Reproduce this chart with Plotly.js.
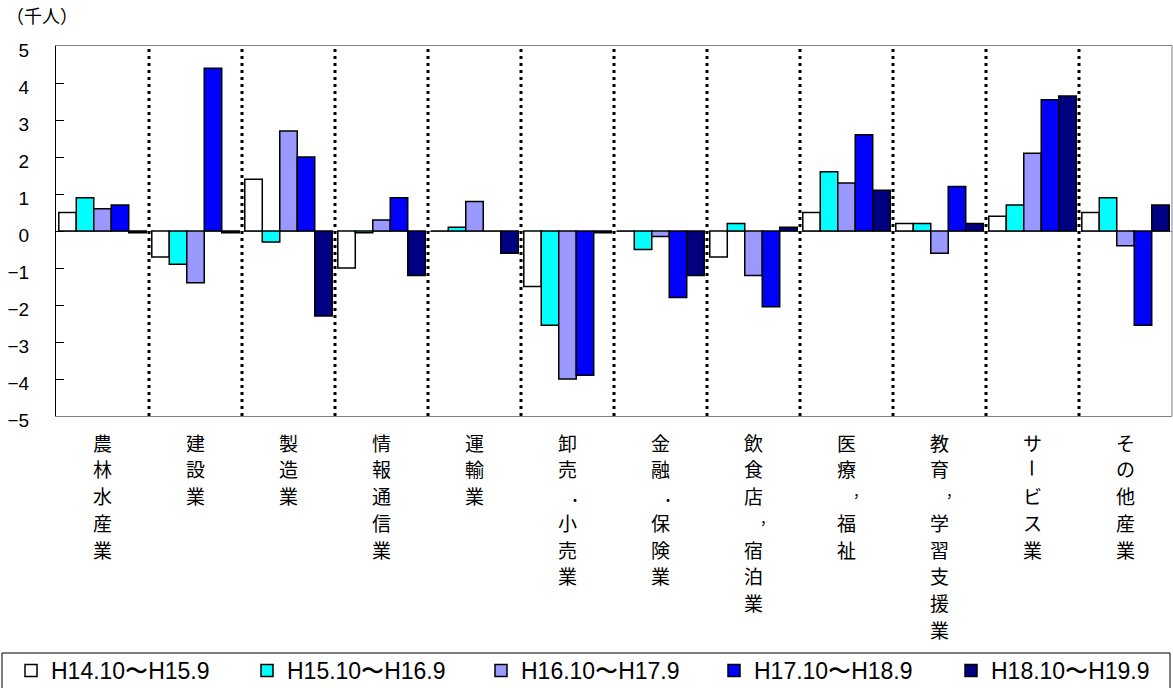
<!DOCTYPE html>
<html><head><meta charset="utf-8">
<script src="https://cdn.plot.ly/plotly-3.0.1.min.js"></script>
<style>html,body{margin:0;padding:0;background:#fff}</style>
</head><body><div id="chart" style="width:1173px;height:688px"></div>
<script>
const categories = ['農林水産業','建設業','製造業','情報通信業','運輸業','卸売・小売業','金融・保険業','飲食店，宿泊業','医療，福祉','教育，学習支援業','サービス業','その他産業'];
const seriesNames = ['H14.10〜H15.9','H15.10〜H16.9','H16.10〜H17.9','H17.10〜H18.9','H18.10〜H19.9'];
const h14 = [0.5, -0.7, 1.4, -1.0, 0, -1.5, 0, -0.7, 0.5, 0.2, 0.4, 0.5];
const h15 = [0.9, -0.9, -0.3, -0.05, 0.1, -2.55, -0.5, 0.2, 1.6, 0.2, 0.7, 0.9];
const h16 = [0.6, -1.4, 2.7, 0.3, 0.8, -4.0, -0.15, -1.2, 1.3, -0.6, 2.1, -0.4];
const h17 = [0.7, 4.4, 2.0, 0.9, 0, -3.9, -1.8, -2.05, 2.6, 1.2, 3.55, -2.55];
const h18 = [-0.05, -0.05, -2.3, -1.2, -0.6, -0.05, -1.2, 0.1, 1.1, 0.2, 3.65, 0.7];
const colors = ['#FFFFFF','#00FFFF','#9999FF','#0000FF','#000080'];
const yTicks = [-5,-4,-3,-2,-1,0,1,2,3,4,5];
const unitLabel = '（千人）';

const W = 1173, H = 688;
const series = [h14,h15,h16,h17,h18];
const legendIds = series.map((v,i)=> i===0 ? 'legend' : 'legend'+(i+1));
const traces = series.map((v,i)=>({
  type:'bar', x:categories, y:v, name:seriesNames[i], legend:legendIds[i],
  marker:{color:colors[i], line:{color:'#000', width:1.5}},
  hoverinfo:'skip'
}));

// plot area geometry (pixels)
const PL = 56, PR = 1172, PT = 46, PB = 416;
const pw = PR-PL, ph = PB-PT;

const shapes = [];
for (let j=0;j<categories.length-1;j++){
  shapes.push({type:'line', xref:'x', yref:'paper', x0:j+0.5, x1:j+0.5, y0:0, y1:1,
    line:{color:'#000', width:3, dash:'3px,4px'}});
}
shapes.push({type:'line', xref:'paper', yref:'paper', x0:1, x1:1, y0:0, y1:1, line:{color:'#808080', width:1}});
// legend frame
shapes.push({type:'rect', xref:'paper', yref:'paper',
  x0:(2-PL)/pw, x1:(1170-PL)/pw, y0:(PB-653)/ph, y1:(PB-700)/ph,
  line:{color:'#000', width:1}, fillcolor:'rgba(0,0,0,0)'});

// vertical category labels, one character per line
const annotations = [];
const FS = 19, LINE = 26.7, FIRST = 25.7;
categories.forEach((c,j)=>{
  [...c].forEach((ch,k)=>{
    const a = {xref:'x', yref:'paper', x:j, y:0, xanchor:'center', yanchor:'middle',
      text:ch, showarrow:false, borderpad:0,
      font:{family:'Noto Sans CJK JP', size:FS, color:'#000'},
      yshift:-Math.round(FIRST + k*LINE)};
    if (ch==='ー') { a.textangle = 90; }
    if (ch==='，') { a.font.size = 14; a.xshift = 13; a.yshift += 4; }
    if (ch==='・') { a.font.size = 14; a.xshift = 7; a.yshift -= 4; }
    annotations.push(a);
  });
});

const layout = {
  width:W, height:H,
  margin:{l:PL, r:W-PR, t:PT, b:H-PB},
  paper_bgcolor:'#fff', plot_bgcolor:'#fff',
  bargap:0.06, bargroupgap:0, barmode:'group',
  showlegend:true,
  title:{text:unitLabel, xref:'container', yref:'container', x:6/W, xanchor:'left', y:1-17/H, yanchor:'middle',
    font:{family:'Noto Sans CJK JP', size:18, color:'#000'}},
  xaxis:{type:'category', range:[-0.5,11.5], showticklabels:false, ticks:'', showgrid:false, zeroline:false,
    showline:true, linecolor:'#808080', linewidth:1, mirror:true, fixedrange:true},
  yaxis:{range:[-5,5], tickvals:yTicks, ticks:'inside', ticklen:8, tickcolor:'#000', tickwidth:1,
    showline:true, linecolor:'#000', linewidth:1, showgrid:false,
    zeroline:true, zerolinecolor:'#808080', zerolinewidth:1,
    tickfont:{family:'Liberation Sans', size:19, color:'#000'}, ticklabelstandoff:22, ticklabelshift:4, fixedrange:true},
  shapes:shapes,
  annotations:annotations
};
const legendX = [11, 247, 481, 714, 951];
legendIds.forEach((id,i)=>{
  layout[id] = {orientation:'h', xref:'container', yref:'container', x:legendX[i]/W, y:1-649/H,
    xanchor:'left', yanchor:'top', borderwidth:0, bgcolor:'rgba(0,0,0,0)',
    font:{family:'Liberation Sans', size:23, color:'#000'}};
});
Plotly.newPlot('chart', traces, layout, {displayModeBar:false, staticPlot:true});
</script></body></html>
